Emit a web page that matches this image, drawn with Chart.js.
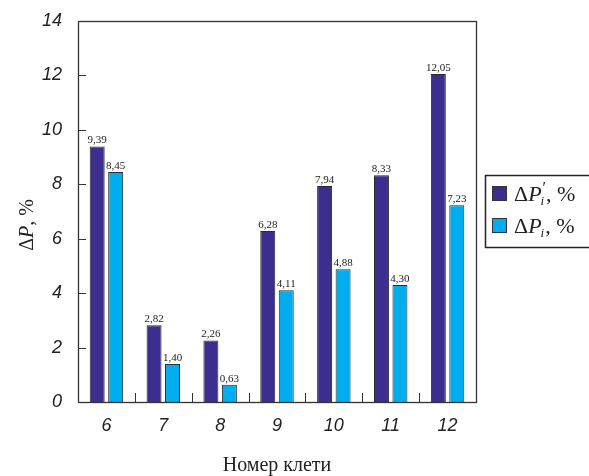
<!DOCTYPE html>
<html>
<head>
<meta charset="utf-8">
<script src="https://cdn.jsdelivr.net/npm/chart.js@4/dist/chart.umd.min.js"></script>
<style>
html,body{margin:0;padding:0;background:#fff;}
#wrap{width:589px;height:476px;position:relative;}
</style>
</head>
<body>
<div id="wrap"><canvas id="c" width="589" height="476"></canvas></div>
<script>
const categories = ['6','7','8','9','10','11','12'];
const seriesPrime = [9.39, 2.82, 2.26, 6.28, 7.94, 8.33, 12.05];
const seriesPlain = [8.45, 1.40, 0.63, 4.11, 4.88, 4.30, 7.23];
const yTicks = [0, 2, 4, 6, 8, 10, 12, 14];
const xTitle = 'Номер клети';

const DARK = '#3b2e8e';
const LIGHT = '#00aeef';
const SERIF = '"Liberation Serif", "Times New Roman", serif';
const SANS = '"Liberation Sans", Arial, sans-serif';

function fmt(v){ return v.toFixed(2).replace('.', ','); }

const decor = {
  id: 'decor',
  afterDatasetsDraw(chart){
    const ctx = chart.ctx;
    const a = chart.chartArea;
    const xs = chart.scales.x, ys = chart.scales.y;
    ctx.save();
    // data labels
    ctx.fillStyle = '#222';
    ctx.font = '11px ' + SERIF;
    ctx.textAlign = 'center';
    ctx.textBaseline = 'alphabetic';
    chart.data.datasets.forEach((ds, di) => {
      const meta = chart.getDatasetMeta(di);
      meta.data.forEach((bar, i) => {
        ctx.fillText(fmt(ds.data[i]), bar.x, bar.y - 3);
      });
    });
    // frame
    ctx.strokeStyle = '#333';
    ctx.lineWidth = 1.3;
    ctx.strokeRect(Math.round(a.left)+0.5, Math.round(a.top)+0.5, Math.round(a.right-a.left), Math.round(a.bottom-a.top));
    // y inner ticks
    ctx.lineWidth = 1;
    ctx.beginPath();
    yTicks.forEach(t => {
      if (t === yTicks[0] || t === yTicks[yTicks.length-1]) return;
      const y = Math.round(ys.getPixelForValue(t)) + 0.5;
      ctx.moveTo(a.left, y); ctx.lineTo(a.left + 8, y);
    });
    // x inner ticks at category boundaries
    for (let i = 1; i < categories.length; i++) {
      const x = Math.round((xs.getPixelForValue(i-1) + xs.getPixelForValue(i)) / 2) + 0.5;
      ctx.moveTo(x, a.bottom); ctx.lineTo(x, a.bottom - 9);
    }
    ctx.stroke();
    // x title
    ctx.fillStyle = '#222';
    ctx.font = '20px ' + SERIF;
    ctx.textAlign = 'center';
    ctx.textBaseline = 'alphabetic';
    ctx.fillText(xTitle, (a.left + a.right) / 2, 471);
    // y title rotated: ΔP, %
    ctx.textAlign = 'left';
    ctx.save();
    ctx.translate(33, 225);
    ctx.rotate(-Math.PI/2);
    const parts = [['Δ', '20px ' + SERIF], ['P', 'italic 20px ' + SERIF], [', %', '20px ' + SERIF]];
    let total = 0;
    parts.forEach(p => { ctx.font = p[1]; total += ctx.measureText(p[0]).width; });
    let x0 = -total/2;
    parts.forEach(p => { ctx.font = p[1]; ctx.fillText(p[0], x0, 0); x0 += ctx.measureText(p[0]).width; });
    ctx.restore();
    // legend
    ctx.textAlign = 'left';
    ctx.strokeStyle = '#222';
    ctx.lineWidth = 1.5;
    ctx.strokeRect(485.5, 175.5, 110, 72);
    const items = [[DARK, true, 201], [LIGHT, false, 233]];
    items.forEach(([col, prime, base]) => {
      ctx.fillStyle = col;
      ctx.fillRect(492, base - 15, 15, 15);
      ctx.lineWidth = 1;
      ctx.strokeStyle = '#333';
      ctx.strokeRect(492.5, base - 14.5, 14, 14);
      ctx.fillStyle = '#222';
      let x = 514;
      ctx.font = '22px ' + SERIF;
      ctx.fillText('Δ', x, base); x += ctx.measureText('Δ').width;
      ctx.font = 'italic 22px ' + SERIF;
      ctx.fillText('P', x, base); x += ctx.measureText('P').width;
      const sx = x;
      ctx.font = 'italic 13px ' + SERIF;
      ctx.fillText('i', sx - 1, base + 4);
      let w = ctx.measureText('i').width;
      if (prime) {
        ctx.font = '16px ' + SERIF;
        ctx.fillText('′', sx + 1, base - 8);
        w = Math.max(w, ctx.measureText('′').width + 1);
      }
      x = sx + w;
      ctx.font = '22px ' + SERIF;
      ctx.fillText(', %', x, base);
    });
    ctx.restore();
  }
};

new Chart(document.getElementById('c'), {
  type: 'bar',
  data: {
    labels: categories,
    datasets: [
      { label: "ΔP'i, %", data: seriesPrime, backgroundColor: DARK, borderColor: '#2a2a2a', borderWidth: 1 },
      { label: 'ΔPi, %', data: seriesPlain, backgroundColor: LIGHT, borderColor: '#2a2a2a', borderWidth: 1 }
    ]
  },
  options: {
    responsive: false,
    animation: false,
    devicePixelRatio: 1,
    layout: { autoPadding: false, padding: { left: 0, top: 21, right: 113, bottom: 0 } },
    plugins: { legend: { display: false }, tooltip: { enabled: false } },
    datasets: { bar: { categoryPercentage: 0.65, barPercentage: 0.81 } },
    scales: {
      x: {
        grid: { display: false, drawTicks: false },
        border: { display: false },
        ticks: { color: '#222', font: { family: SANS, size: 18, style: 'italic' }, padding: 13 },
        afterFit(s){ s.height = 74; s.paddingLeft = 0; s.paddingRight = 0; }
      },
      y: {
        min: 0, max: 14,
        grid: { display: false, drawTicks: false },
        border: { display: false },
        afterBuildTicks(s){ s.ticks = yTicks.map(v => ({ value: v })); },
        ticks: { color: '#222', font: { family: SANS, size: 18, style: 'italic' }, padding: 16 },
        afterFit(s){ s.width = 78; s.paddingTop = 0; s.paddingBottom = 0; }
      }
    }
  },
  plugins: [decor]
});
</script>
</body>
</html>
